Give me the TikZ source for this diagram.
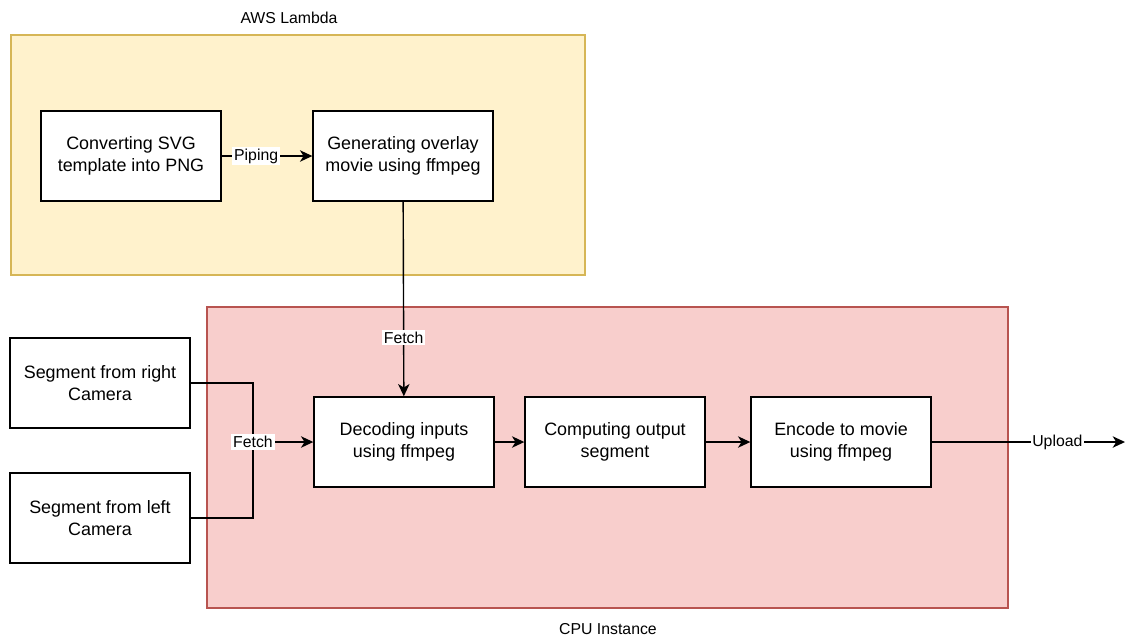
\documentclass[tikz,border=0pt]{standalone}
\usepackage{fontspec}
\setmainfont{Liberation Sans}
\usetikzlibrary{arrows.meta}
\definecolor{lambdafill}{HTML}{FFF2CC}
\definecolor{lambdaline}{HTML}{D6B656}
\definecolor{cpufill}{HTML}{F8CECC}
\definecolor{cpuline}{HTML}{B85450}

\begin{document}
\begin{tikzpicture}[x=0.02cm, y=-0.02cm,
        box/.style={draw, fill=white, line width=0.8pt, minimum width=3.6cm, minimum height=1.8cm, align=center, font=\fontsize{10.2}{12.5}\selectfont},
        lbl/.style={fill=white, inner sep=1pt, font=\fontsize{9}{10}\selectfont},
        title/.style={font=\fontsize{9}{10}\selectfont},
        arr/.style={-{Stealth[length=7pt,width=6.5pt,inset=2pt]}, line width=0.8pt}]
        \useasboundingbox (0,0) rectangle (1125,637);
        % regions
        \draw [lambdaline, fill=lambdafill, line width=0.8pt] (11,35) rectangle (585,275);
        \draw [cpuline, fill=cpufill, line width=0.8pt] (207,307) rectangle (1008,608);
        \node [title] (lambda) at (289,18) {AWS Lambda};
        \node [title] (cpu) at (608,629) {CPU Instance};
        % boxes
        \node [box] (svg) at (131,156) {Converting SVG\\template into PNG};
        \node [box] (overlay) at (403,156) {Generating overlay\\movie using ffmpeg};
        \node [box] (segr) at (100,383) {Segment from right\\Camera};
        \node [box] (segl) at (100,518) {Segment from left\\Camera};
        \node [box] (decode) at (404,442) {Decoding inputs\\using ffmpeg};
        \node [box] (compute) at (615,442) {Computing output\\segment};
        \node [box] (encode) at (841,442) {Encode to movie\\using ffmpeg};
        \coordinate (join) at (253,442);
        \coordinate (out) at (1125,442);
        % connectors
        \draw [arr] (svg) -- node [lbl, pos=0.38] {Piping} (overlay);
        \draw [arr] (overlay) -- node [lbl, pos=0.7] {Fetch} (decode);
        \draw [line width=0.8pt] (segr) -| (join);
        \draw [line width=0.8pt] (segl) -| (join);
        \draw [arr] (join) -- node [lbl, pos=0] {Fetch} (decode);
        \draw [arr] (decode) -- (compute);
        \draw [arr] (compute) -- (encode);
        \draw [arr] (encode) -- node [lbl, pos=0.65] {Upload} (out);
    \end{tikzpicture}
\end{document}
